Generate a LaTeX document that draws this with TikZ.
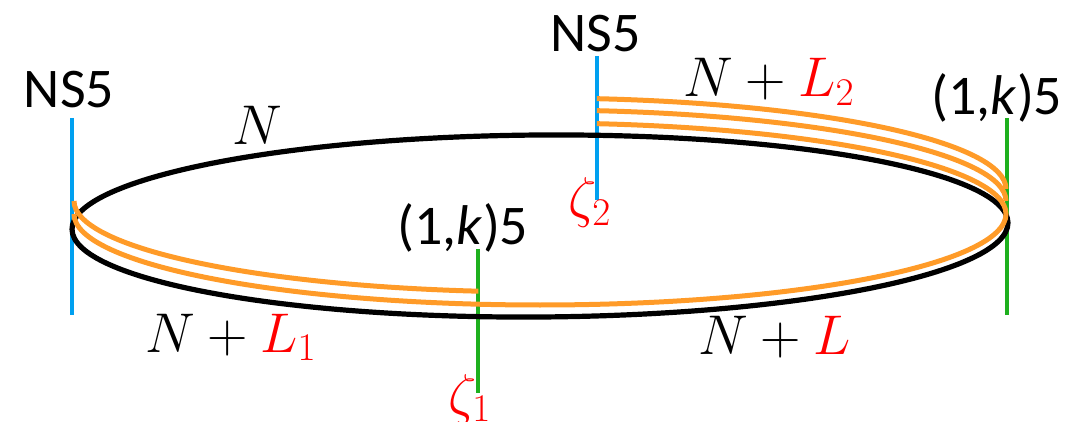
\RequirePackage{fix-cm}
\documentclass[tikz,border=0pt]{standalone}
\usepackage{fontspec}
\newfontfamily\branefont{Carlito}
\definecolor{nsblue}{RGB}{0,160,240}
\definecolor{pkgreen}{RGB}{30,176,30}
\definecolor{dthree}{RGB}{255,155,40}
\definecolor{lred}{RGB}{255,0,0}
\begin{document}
\begin{tikzpicture}[x=0.5pt,y=0.5pt,
  brane/.style={line width=2.2pt},
  ns/.style={brane,draw=nsblue},
  pk/.style={brane,draw=pkgreen},
  circlebrane/.style={line width=2.6pt,draw=black},
  d3/.style={line width=2.5pt,draw=dthree},
  bname/.style={font=\branefont\fontsize{28}{34}\selectfont,inner sep=0pt},
  mlabel/.style={font=\fontsize{28}{34}\selectfont,inner sep=0pt}]
\useasboundingbox (0,0) rectangle (1081,-422);

% end points of the five-branes
\coordinate (nsLt) at (72,-118);   \coordinate (nsLb) at (72,-315);
\coordinate (nsMt) at (597,-56);   \coordinate (nsMb) at (597,-200);
\coordinate (pkMt) at (478,-249);  \coordinate (pkMb) at (478,-393);
\coordinate (pkRt) at (1007,-118); \coordinate (pkRb) at (1007,-315);

% five-branes
\draw[ns] (nsLt) -- (nsLb);
\draw[ns] (nsMt) -- (nsMb);
\draw[pk] (pkMt) -- (pkMb);
\draw[pk] (pkRt) -- (pkRb);

% compact direction
\draw[circlebrane, rotate around={0.4:(540,-226)}] (540,-226) ellipse [x radius=468, y radius=91];

% D3-branes
\coordinate (c1) at (540,-201);
\coordinate (c2) at (540,-214);
\coordinate (c4) at (540,-189);
\draw[d3] (c1) ++(180:466 and 91) arc[start angle=180, end angle=262.4, x radius=466, y radius=91];
\draw[d3] (c2) ++(180:466 and 91) arc[start angle=180, end angle=443, x radius=466, y radius=91];
\draw[d3] (c1) ++(83:466 and 91) arc[start angle=83, end angle=0, x radius=466, y radius=91];
\draw[d3] (c4) ++(83:466 and 91) arc[start angle=83, end angle=0, x radius=466, y radius=91];

% brane names
\node[bname, anchor=base] (nsL) at (69,-108) {NS5};
\node[bname, anchor=base] (nsM) at (595.5,-52) {NS5};
\node[bname, anchor=base] (pkM) at (463,-245) {(1,\textit{k})5};
\node[bname, anchor=base] (pkR) at (997,-115) {(1,\textit{k})5};

% numbers of D3-branes and positions
\node[mlabel, anchor=base] (nTop) at (257,-145) {$N$};
\node[mlabel, anchor=base west] (nL1) at (145,-352) {$N+\textcolor{lred}{L_1}$};
\node[mlabel, anchor=base west] (nL) at (698,-354) {$N+\textcolor{lred}{L}$};
\node[mlabel, anchor=base west] (nL2) at (683,-97) {$N+\textcolor{lred}{L_2}$};
\node[mlabel, anchor=base west, text=lred] (z1) at (448,-413) {$\zeta_1$};
\node[mlabel, anchor=base west, text=lred] (z2) at (568,-217) {$\zeta_2$};
\end{tikzpicture}
\end{document}
